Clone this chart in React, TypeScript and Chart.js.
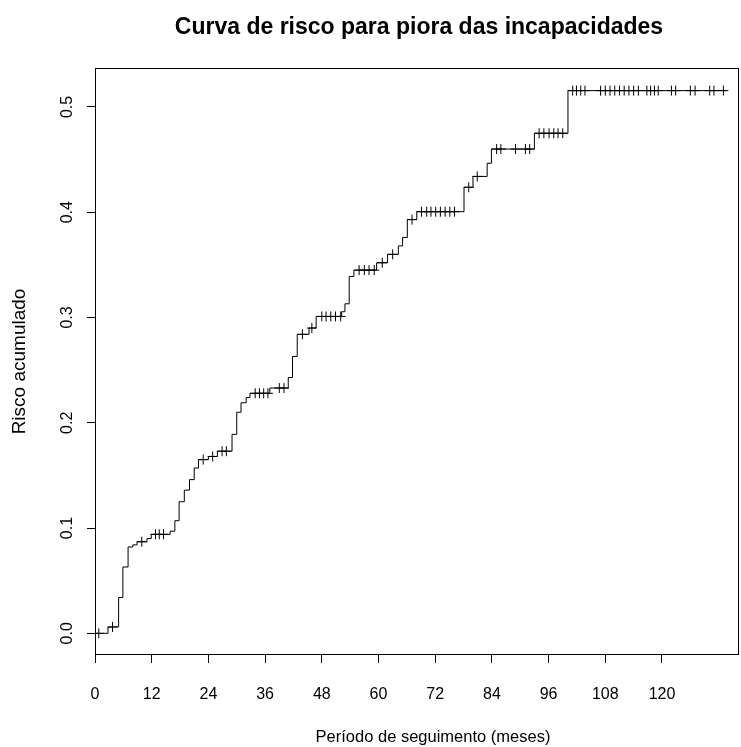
import React, { useEffect, useRef } from "react";
import { Chart, registerables } from "chart.js";

Chart.register(...registerables);

const chartTitle = "Curva de risco para piora das incapacidades";
const xAxisLabel = "Período de seguimento (meses)";
const yAxisLabel = "Risco acumulado";

// event times (months) and cumulative risk after each event
const eventTimes = [
  0, 2.75, 5.0, 5.9, 7.0, 8.0, 8.9, 11.0, 11.9, 15.9, 16.9, 17.8, 18.9, 20.0, 21.0, 21.9,
  24.0, 25.9, 29.0, 30.0, 30.9, 32.0, 32.8, 37.0, 40.9, 41.8, 42.8, 45.3, 46.8, 52.2,
  52.9, 53.8, 54.8, 59.6, 61.9, 64.2, 65.1, 66.1, 68.1, 78.1, 80.0, 83.0, 83.9, 93.0, 100.1,
];
const eventRisk = [
  0, 0.006, 0.034, 0.063, 0.082, 0.084, 0.087, 0.09, 0.094, 0.097, 0.107, 0.125, 0.136, 0.146,
  0.157, 0.165, 0.168, 0.173, 0.189, 0.21, 0.219, 0.224, 0.228, 0.233, 0.243, 0.263, 0.284,
  0.29, 0.301, 0.3055, 0.313, 0.339, 0.345, 0.352, 0.36, 0.368, 0.376, 0.393, 0.4005, 0.4237,
  0.434, 0.4465, 0.46, 0.475, 0.5155,
];
// censored observations (months)
const censorTimes = [
  0.8, 3.7, 9.9, 12.8, 13.6, 14.5, 22.9, 24.9, 26.9, 27.8, 33.9, 34.8, 35.7, 36.6, 39.0, 40.0,
  43.9, 45.9, 48.0, 48.9, 49.9, 50.9, 52.0, 55.9, 57.0, 58.0, 59.1, 60.8, 63.0, 67.1, 69.1,
  70.2, 71.1, 72.1, 73.1, 74.1, 75.1, 76.1, 79.1, 80.9, 85.0, 85.9, 89.0, 91.1, 92.0, 94.0,
  95.0, 96.1, 97.1, 98.0, 99.0, 101.1, 101.9, 102.8, 103.7, 107.0, 108.0, 109.0, 110.0, 111.0,
  112.0, 113.0, 114.0, 115.0, 116.8, 117.6, 118.4, 119.2, 122.0, 122.9, 126.0, 127.0, 130.1,
  131.0, 133.0,
];
const lastFollowUp = 133.6;

const xTicks = [0, 12, 24, 36, 48, 60, 72, 84, 96, 108, 120];
const yTicks = [0, 0.1, 0.2, 0.3, 0.4, 0.5];
const xMin = 0;
const xMax = 136.3;
const yMin = -0.0206;
const yMax = 0.537;

function riskAt(t: number): number {
  let r = 0;
  for (let i = 0; i < eventTimes.length; i++) {
    if (eventTimes[i] <= t) r = eventRisk[i];
  }
  return r;
}

const FONT = '"Liberation Sans", Arial, Helvetica, sans-serif';

export default function App() {
  const ref = useRef<HTMLCanvasElement | null>(null);

  useEffect(() => {
    if (!ref.current) return;
    const stepData = eventTimes.map((t, i) => ({ x: t, y: eventRisk[i] }));
    stepData.push({ x: lastFollowUp, y: eventRisk[eventRisk.length - 1] });
    const censorData = censorTimes.map((t) => ({ x: t, y: riskAt(t) }));

    const textPlugin = {
      id: "rtext",
      afterDraw(chart: any) {
        const { ctx, chartArea } = chart;
        const { left, right, top, bottom } = chartArea;
        ctx.save();
        ctx.strokeStyle = "#000";
        ctx.lineWidth = 1;
        ctx.strokeRect(Math.round(left) + 0.5, Math.round(top) + 0.5, Math.round(right - left) - 1, Math.round(bottom - top) - 1);
        ctx.fillStyle = "#000";
        ctx.textAlign = "center";
        ctx.textBaseline = "middle";
        const cx = (left + right) / 2;
        ctx.font = `bold 23px ${FONT}`;
        ctx.fillText(chartTitle, cx + 2, 28);
        ctx.font = `16.5px ${FONT}`;
        ctx.fillText(xAxisLabel, cx + 16, 737);
        ctx.font = `19px ${FONT}`;
        ctx.translate(20, (top + bottom) / 2);
        ctx.rotate(-Math.PI / 2);
        ctx.fillText(yAxisLabel, 0, 0);
        ctx.restore();
      },
    };

    const chart = new Chart(ref.current, {
      type: "scatter",
      data: {
        datasets: [
          {
            type: "line",
            data: stepData,
            stepped: "before",
            borderColor: "#000",
            borderWidth: 1,
            pointRadius: 0,
            fill: false,
            tension: 0,
          } as any,
          {
            type: "scatter",
            data: censorData,
            pointStyle: "cross",
            pointRadius: 5,
            borderColor: "#000",
            backgroundColor: "#000",
            borderWidth: 1,
          } as any,
        ],
      },
      options: {
        responsive: false,
        animation: false,
        devicePixelRatio: 1,
        layout: { autoPadding: false, padding: { top: 68, right: 2, left: 0, bottom: 0 } },
        plugins: {
          legend: { display: false },
          tooltip: { enabled: false },
          title: { display: false },
        },
        scales: {
          x: {
            type: "linear",
            min: xMin,
            max: xMax,
            afterBuildTicks: (s: any) => {
              s.ticks = xTicks.map((v) => ({ value: v }));
            },
            afterFit: (s: any) => {
              s.height = 92;
              s.paddingLeft = 0;
              s.paddingRight = 0;
            },
            grid: { drawOnChartArea: false, drawTicks: true, tickLength: 8, color: "#000", tickColor: "#000", lineWidth: 1 },
            border: { display: false },
            ticks: {
              color: "#000",
              font: { family: FONT, size: 16 },
              padding: 22,
              maxRotation: 0,
              minRotation: 0,
              autoSkip: false,
              callback: (v: any) => String(v),
            },
          },
          y: {
            type: "linear",
            min: yMin,
            max: yMax,
            afterBuildTicks: (s: any) => {
              s.ticks = yTicks.map((v) => ({ value: v }));
            },
            afterFit: (s: any) => {
              s.width = 95;
              s.paddingTop = 0;
              s.paddingBottom = 0;
            },
            grid: { drawOnChartArea: false, drawTicks: true, tickLength: 8, color: "#000", tickColor: "#000", lineWidth: 1 },
            border: { display: false },
            ticks: {
              color: "#000",
              font: { family: FONT, size: 16 },
              padding: 8,
              minRotation: 90,
              maxRotation: 90,
              crossAlign: "center",
              autoSkip: false,
              callback: (v: any) => Number(v).toFixed(1),
            },
          },
        },
      } as any,
      plugins: [textPlugin],
    });
    return () => chart.destroy();
  }, []);

  return (
    <canvas
      ref={ref}
      width={741}
      height={747}
      style={{ position: "absolute", left: 0, top: 0, width: 741, height: 747 }}
    />
  );
}
